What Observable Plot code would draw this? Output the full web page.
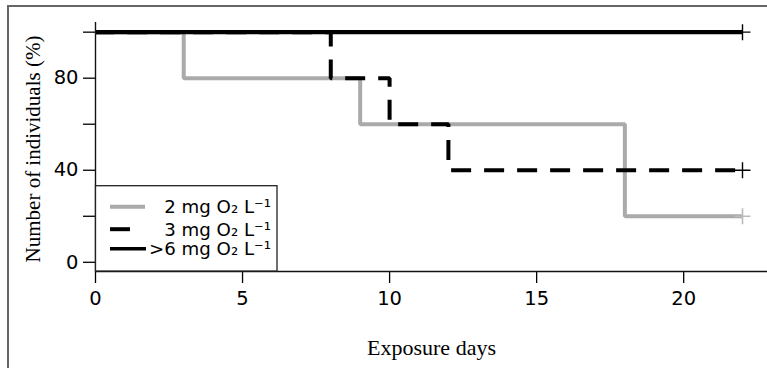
<!DOCTYPE html>
<html>
<head>
<meta charset="utf-8">
<script src="https://cdn.jsdelivr.net/npm/d3@7"></script>
<script src="https://cdn.jsdelivr.net/npm/@observablehq/plot@0.6"></script>
<style>
  html, body { margin: 0; padding: 0; background: white; overflow: hidden; }
  #wrap { position: relative; width: 767px; height: 368px; overflow: hidden; }
  #frame { position: absolute; left: 7px; top: 5px; width: 900px; height: 500px; z-index: 5;
           border-left: 2px solid #666; border-top: 2px solid #666; pointer-events: none; }
  #legend { position: absolute; left: 0; top: 0; pointer-events: none; z-index: 3; }
</style>
</head>
<body>
<div id="wrap"><div id="chart"></div><svg id="legend" width="767" height="368"></svg><div id="frame"></div></div>
<script>
// ---- data ----
const seriesNames = ["2 mg O\u2082 L\u207B\u00B9", "3 mg O\u2082 L\u207B\u00B9", ">6 mg O\u2082 L\u207B\u00B9"];
const days2 = [0, 3, 9, 18, 22];
const surv2 = [100, 80, 60, 20, 20];
const days3 = [0, 8, 10, 12, 22];
const surv3 = [100, 80, 60, 40, 40];
const days6 = [0, 22];
const surv6 = [100, 100];
const xTicks = [0, 5, 10, 15, 20];
const yTicks = [0, 20, 40, 60, 80, 100];
const yLabelled = [0, 40, 80];
const xTitle = "Exposure days";
const yTitle = "Number of individuals (%)";

const toRows = (d, s) => d.map((x, i) => ({x, y: s[i]}));
const s2 = toRows(days2, surv2);
const s3 = toRows(days3, surv3);
const s6 = toRows(days6, surv6);
const last = a => [a[a.length - 1]];

const tickFont = "DejaVu Sans, Verdana, sans-serif";
const titleFont = "Liberation Serif, Times New Roman, serif";

const chart = Plot.plot({
  width: 767,
  height: 368,
  marginLeft: 95,
  marginRight: 0,
  marginTop: 22,
  marginBottom: 97,
  style: {fontFamily: tickFont, fontSize: "19.5px", color: "black", background: "white"},
  x: {domain: [0, 22.85]},
  y: {domain: [-4, 104.2]},
  marks: [
    Plot.axisX({ticks: xTicks, tickSize: 12, tickPadding: 8, label: null, fontSize: 19.5, strokeWidth: 1.3}),
    Plot.axisY({ticks: yTicks, tickSize: 12, tickPadding: 5, label: null, fontSize: 19.5, strokeWidth: 1.3,
      tickFormat: d => yLabelled.includes(d) ? String(d) : ""}),
    Plot.ruleY([-4], {stroke: "#111", strokeWidth: 1.4}),
    Plot.ruleX([0], {stroke: "#111", strokeWidth: 1.4}),
    Plot.line(s2, {x: "x", y: "y", curve: "step-after", stroke: "#aaaaaa", strokeWidth: 4,
      strokeLinecap: "butt", strokeLinejoin: "miter"}),
    Plot.line(s3, {x: "x", y: "y", curve: "step-after", stroke: "black", strokeWidth: 4,
      strokeDasharray: "20,13", strokeDashoffset: 1.3, strokeLinecap: "butt", strokeLinejoin: "miter"}),
    Plot.line(s6, {x: "x", y: "y", curve: "step-after", stroke: "black", strokeWidth: 4.3,
      strokeLinecap: "butt", strokeLinejoin: "miter"}),
    Plot.dot(last(s2), {x: "x", y: "y", symbol: "plus", r: 5.2, stroke: "#bbbbbb", strokeWidth: 1.6}),
    Plot.dot(last(s3), {x: "x", y: "y", symbol: "plus", r: 5.2, stroke: "black", strokeWidth: 1.4}),
    Plot.dot(last(s6), {x: "x", y: "y", symbol: "plus", r: 5.2, stroke: "black", strokeWidth: 1.4}),
    Plot.text([xTitle], {frameAnchor: "bottom", dy: 83, fontFamily: titleFont, fontSize: 22, fill: "black"}),
    Plot.text([yTitle], {frameAnchor: "left", textAnchor: "middle", rotate: -90, dx: -62, dy: 2,
      fontFamily: titleFont, fontSize: 21, fill: "black"})
  ]
});
document.getElementById("chart").appendChild(chart);

// ---- legend ----
const lg = d3.select("#legend");
lg.append("rect").attr("x", 95.5).attr("y", 185.7).attr("width", 181.5).attr("height", 85.3)
  .attr("fill", "white").attr("stroke", "#222").attr("stroke-width", 1.3);
const rowsY = [206.7, 229.2, 248.8];
const styles = [
  {stroke: "#aaaaaa", x2: 145, w: 4},
  {stroke: "black", x2: 130, w: 4},
  {stroke: "black", x2: 146, w: 3.6}
];
seriesNames.forEach((name, i) => {
  const st = styles[i];
  lg.append("line").attr("x1", 110).attr("x2", st.x2).attr("y1", rowsY[i]).attr("y2", rowsY[i])
    .attr("stroke", st.stroke).attr("stroke-width", st.w);
  lg.append("text").attr("x", 271).attr("y", rowsY[i]).attr("dy", "0.36em")
    .attr("text-anchor", "end").attr("font-family", tickFont).attr("font-size", 18.2)
    .attr("fill", "black").text(name);
});
</script>
</body>
</html>
